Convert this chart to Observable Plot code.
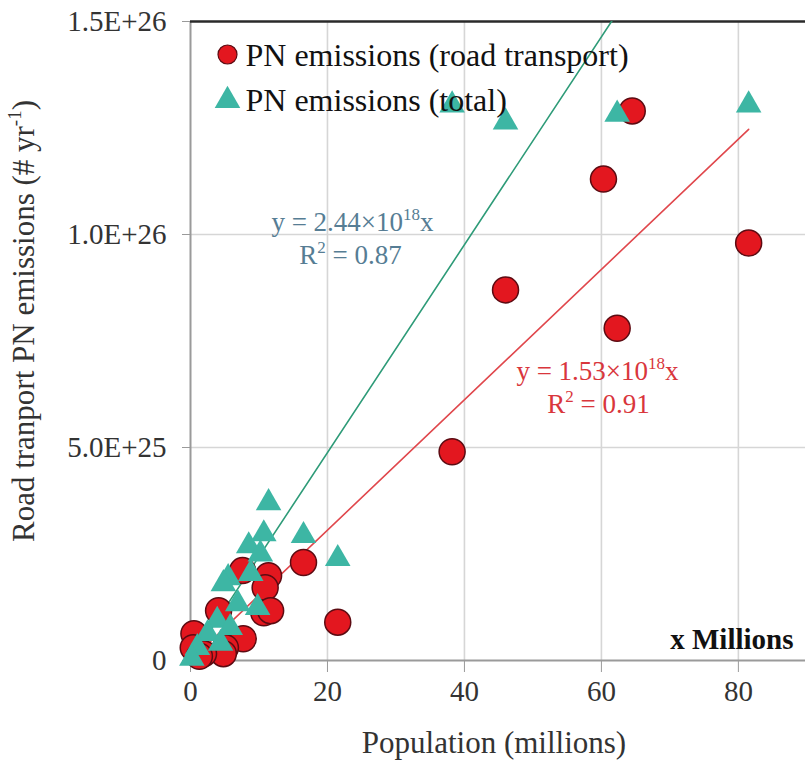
<!DOCTYPE html>
<html>
<head>
<meta charset="utf-8">
<script src="https://cdn.jsdelivr.net/npm/d3@7"></script>
<script src="https://cdn.jsdelivr.net/npm/@observablehq/plot@0.6"></script>
<style>
  body { margin: 0; background: #fff; }
  #chart svg { display: block; }
</style>
</head>
<body>
<div id="chart"></div>
<script>
// ---- Data ----
// PN emissions from road transport (red circles): population (millions), emissions (# / yr)
const roadPop = [64.5, 60.3, 81.5, 46.0, 62.3, 38.2, 16.5, 21.5, 7.6, 11.4, 10.9, 10.7, 11.7, 4.1, 7.7, 5.1, 0.5, 0.4, 4.8, 1.9, 1.3];
const roadPN  = [1.29e26, 1.13e26, 9.8e25, 8.7e25, 7.8e25, 4.9e25, 2.3e25, 0.9e25, 2.11e25, 1.99e25, 1.71e25, 1.12e25, 1.17e25, 1.17e25, 0.51e25, 0.30e25, 0.63e25, 0.30e25, 0.16e25, 0.16e25, 0.10e25];
// PN emissions total (teal triangles)
const totalPop = [38.2, 46.0, 62.3, 81.5, 11.4, 16.5, 21.5, 10.7, 8.5, 10.2, 5.5, 4.8, 8.8, 6.9, 9.8, 3.9, 2.5, 1.0, 0.2, 4.4, 5.8];
const totalPN  = [1.304e26, 1.264e26, 1.282e26, 1.304e26, 3.70e25, 2.93e25, 2.39e25, 2.97e25, 2.69e25, 2.50e25, 1.94e25, 1.80e25, 2.04e25, 1.33e25, 1.24e25, 0.94e25, 0.63e25, 0.30e25, 0.05e25, 0.40e25, 0.77e25];
// Linear fits through the origin (slope per person)
const fitNames  = ["total", "road"];
const fitSlopes = [2.44e18, 1.53e18];
const fitR2     = [0.87, 0.91];
// Axis ticks
const xTicks = [0, 20, 40, 60, 80];
const yTicks = [0, 5e25, 1e26, 1.5e26];
const yTickLabels = ["0", "5.0E+25", "1.0E+26", "1.5E+26"];

// ---- Build tables ----
const road  = roadPop.map((p, i) => ({pop: p, pn: roadPN[i]}));
const total = totalPop.map((p, i) => ({pop: p, pn: totalPN[i]}));
const maxPop = d3.max(roadPop);
const fitLines = fitSlopes.flatMap((s, k) =>
  [0, maxPop].map(p => ({series: fitNames[k], pop: p, pn: s * 1e6 * p})));

const RED = "#e3171f", RED_EDGE = "#5c0b12", TEAL = "#3db6a4";
const GREEN_LINE = "#2e9b78", RED_LINE = "#e0474c";
const GREEN_TXT = "#567d94", RED_TXT = "#d9363c";

const eq = (k) => `y = ${fitSlopes[k] / 1e18}×10^{18}x`;
const r2 = (k) => `R^{2} = ${fitR2[k].toFixed(2)}`;

const plot = Plot.plot({
  width: 805,
  height: 764,
  marginLeft: 190,
  marginRight: 0,
  marginTop: 21,
  marginBottom: 104,
  style: {fontFamily: "'Liberation Serif', 'DejaVu Serif', serif", background: "#fff", overflow: "visible"},
  x: {domain: [0, 89.8]},
  y: {domain: [0, 1.5e26]},
  marks: [
    Plot.gridX(xTicks.slice(1), {stroke: "#d6d6d6", strokeOpacity: 1, strokeWidth: 1.6}),
    Plot.gridY(yTicks.slice(1, 3), {stroke: "#d6d6d6", strokeOpacity: 1, strokeWidth: 1.6}),
    Plot.axisX(xTicks, {tickSize: 12, tickPadding: 8, fontSize: 29, stroke: "#9a9a9a", fill: "#333", label: null, tickFormat: d => String(d)}),
    Plot.axisY(yTicks, {tickSize: 8, tickPadding: 16, fontSize: 29, stroke: "#9a9a9a", fill: "#333", label: null,
      tickFormat: d => yTickLabels[yTicks.indexOf(d)]}),
    // frame lines
    Plot.ruleY([0], {stroke: "#9a9a9a", strokeWidth: 2}),
    Plot.ruleX([0], {stroke: "#9a9a9a", strokeWidth: 2}),
    Plot.ruleY([1.5e26], {stroke: "#2a2a2a", strokeWidth: 2.5}),
    // regression lines
    Plot.line(fitLines, {x: "pop", y: "pn", z: "series",
      stroke: d => d.series === "total" ? GREEN_LINE : RED_LINE, strokeWidth: 1.6, clip: true}),
    // points
    Plot.dot(road, {x: "pop", y: "pn", r: 13, fill: RED, stroke: RED_EDGE, strokeWidth: 1.5}),
    Plot.dot(total, {x: "pop", y: "pn", symbol: "triangle", r: 9.5, fill: TEAL}),
    // legend
    Plot.dot([0], {frameAnchor: "top-left", dx: 37, dy: 33, r: 9.5, fill: RED, stroke: RED_EDGE, strokeWidth: 1.2}),
    Plot.dot([0], {frameAnchor: "top-left", dx: 37, dy: 79, r: 9.5, symbol: "triangle", fill: TEAL}),
    Plot.text(["PN emissions (road transport)"], {text: d => d, frameAnchor: "top-left", dx: 55, dy: 44,
      textAnchor: "start", lineAnchor: "bottom", fontSize: 32, fill: "#111"}),
    Plot.text(["PN emissions (total)"], {text: d => d, frameAnchor: "top-left", dx: 55, dy: 89,
      textAnchor: "start", lineAnchor: "bottom", fontSize: 32, fill: "#111"}),
    // fit annotations
    Plot.text([eq(0)], {text: d => d, frameAnchor: "top-left", dx: 162, dy: 209, textAnchor: "middle", lineAnchor: "bottom", fontSize: 27, fill: GREEN_TXT}),
    Plot.text([r2(0)], {text: d => d, frameAnchor: "top-left", dx: 160, dy: 242, textAnchor: "middle", lineAnchor: "bottom", fontSize: 27, fill: GREEN_TXT}),
    Plot.text([eq(1)], {text: d => d, frameAnchor: "top-left", dx: 407, dy: 358, textAnchor: "middle", lineAnchor: "bottom", fontSize: 27, fill: RED_TXT}),
    Plot.text([r2(1)], {text: d => d, frameAnchor: "top-left", dx: 408, dy: 391, textAnchor: "middle", lineAnchor: "bottom", fontSize: 27, fill: RED_TXT}),
    // unit note
    Plot.text(["x Millions"], {text: d => d, frameAnchor: "bottom-right", dx: -12, dy: -12, textAnchor: "end", lineAnchor: "bottom",
      fontSize: 29, fontWeight: "bold", fill: "#111"}),
    // axis titles
    Plot.text(["Population (millions)"], {text: d => d, frameAnchor: "bottom", dx: -4, dy: 92, textAnchor: "middle", lineAnchor: "bottom",
      fontSize: 31, fill: "#333"}),
    Plot.text(["Road tranport PN emissions (# yr^{-1})"], {text: d => d, frameAnchor: "left", rotate: -90, dx: -157, dy: -20,
      textAnchor: "middle", lineAnchor: "bottom", fontSize: 31, fill: "#333"})
  ]
});

document.getElementById("chart").appendChild(plot);

// Convert ^{...} markup into superscript tspans
const svgNS = "http://www.w3.org/2000/svg";
d3.select(plot).selectAll("text, tspan").each(function () {
  if (this.childNodes.length !== 1 || this.firstChild.nodeType !== 3) return;
  const s = this.textContent;
  if (!s.includes("^{")) return;
  const fs = parseFloat(getComputedStyle(this).fontSize) || 28;
  const shift = Math.round(fs * 0.42);
  this.textContent = "";
  let pending = 0;
  for (const part of s.split(/(\^\{[^}]*\})/)) {
    if (!part) continue;
    const t = document.createElementNS(svgNS, "tspan");
    const m = part.match(/^\^\{(.*)\}$/);
    if (m) {
      t.textContent = m[1];
      t.setAttribute("font-size", Math.round(fs * 0.62));
      t.setAttribute("dy", -shift - pending);
      pending = -shift;
    } else {
      t.textContent = part;
      if (pending) t.setAttribute("dy", -pending);
      pending = 0;
    }
    this.appendChild(t);
  }
});
</script>
</body>
</html>
